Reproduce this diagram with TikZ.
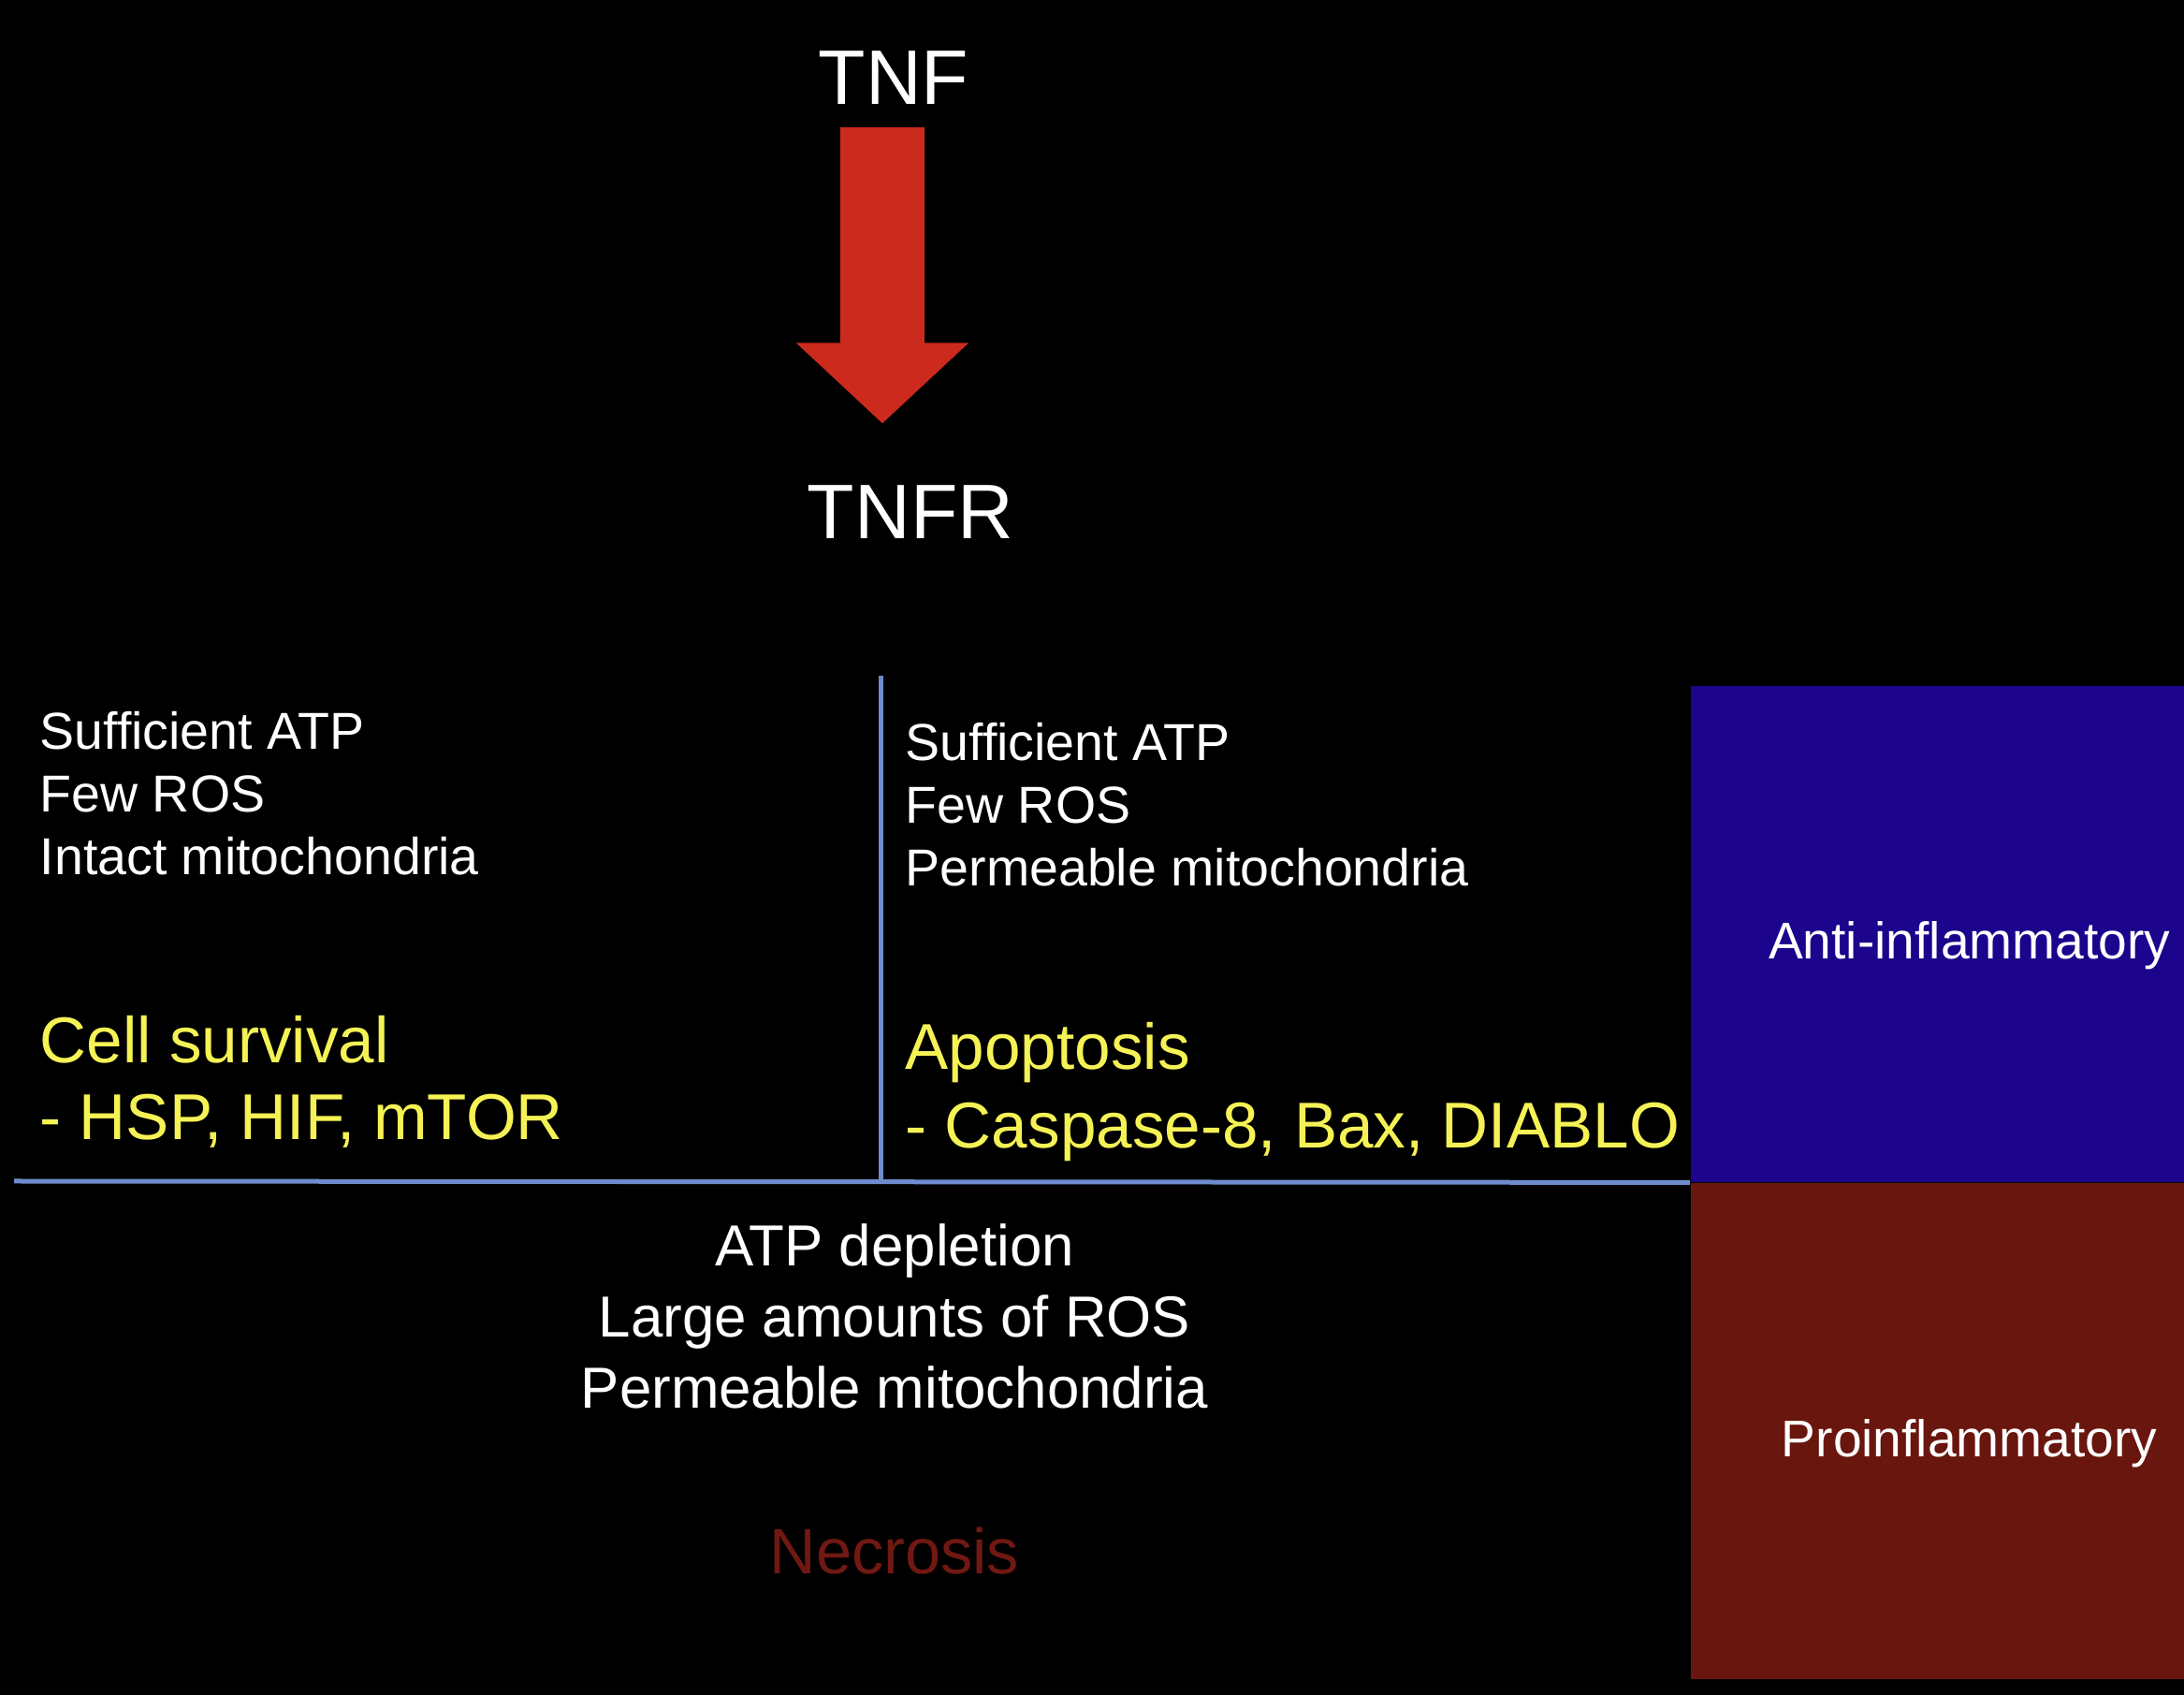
\documentclass[tikz,border=0pt]{standalone}
\usepackage{fontspec}
\setmainfont{Liberation Sans}
\usepackage{tikz}
\usetikzlibrary{positioning, arrows.meta, calc}
\definecolor{arrowred}{RGB}{205,42,30}
\definecolor{lineblue}{RGB}{110,140,205}
\definecolor{boxblue}{RGB}{28,4,140}
\definecolor{boxred}{RGB}{105,22,15}
\definecolor{fateyellow}{RGB}{245,242,85}
\definecolor{necred}{RGB}{112,24,18}

\begin{document}
\begin{tikzpicture}[>=Stealth,
        every node/.style={inner sep=0pt, anchor=base west, text=white},
        title/.style={font=\fontsize{23.5}{28}\selectfont, anchor=base},
        cond/.style={font=\fontsize{15.8}{19}\selectfont},
        fate/.style={font=\fontsize{19.7}{23}\selectfont, text=fateyellow},
        loss/.style={font=\fontsize{17.6}{21}\selectfont, anchor=base},
        region/.style={rectangle, minimum width=5.96cm, minimum height=5.30cm,
            anchor=north west, text height=0.64cm, text depth=0.1cm,
            font=\fontsize{15.7}{19}\selectfont},
        divider/.style={draw=lineblue, line width=0.05cm},
        tnfarrow/.style={draw=arrowred, line width=0.9cm,
            -{Triangle[width=1.79cm, length=0.86cm]},
            shorten <=0.23cm, shorten >=0.66cm}]
      \fill[black] (0,0) rectangle (23.34,-18.11);
      \useasboundingbox (0,0) rectangle (23.34,-18.11);

      % receptor
      \node[title] (tnf) at (9.55,-1.12) {TNF};
      \node[title] (tnfr) at (9.73,-5.76) {TNFR};
      \coordinate (tip) at (9.43,-4.51);
      \draw[tnfarrow] (tnf.south -| tip) -- (tnfr.north -| tip);

      % outcome regions
      \node[region, fill=boxblue] (anti) at (18.06,-7.32) {Anti-inflammatory};
      \node[region, fill=boxred, below=0pt of anti.south west, anchor=north west] (pro) {Proinflammatory};

      \coordinate (vtop) at (9.41,-7.22);
      \coordinate (vbot) at (9.41,-12.62);
      \coordinate (hleft) at (0.15,-12.62);
      \draw[divider] (vtop) -- (vbot);
      \draw[divider] (hleft) -- (anti.south west);

      % survival
      \node[cond] (s1) at (0.42,-8.01) {Sufficient ATP};
      \node[cond, below=0.67cm of s1.base west, anchor=base west] (s2) {Few ROS};
      \node[cond, below=0.67cm of s2.base west, anchor=base west] (s3) {Intact mitochondria};
      \node[fate] (s4) at (0.42,-11.36) {Cell survival};
      \node[fate, below=0.82cm of s4.base west, anchor=base west] (s5) {- HSP, HIF, mTOR};

      % apoptosis
      \node[cond] (a1) at (9.67,-8.13) {Sufficient ATP};
      \node[cond, below=0.67cm of a1.base west, anchor=base west] (a2) {Few ROS};
      \node[cond, below=0.67cm of a2.base west, anchor=base west] (a3) {Permeable mitochondria};
      \node[fate] (a4) at (9.67,-11.43) {Apoptosis};
      \node[fate, below=0.84cm of a4.base west, anchor=base west] (a5) {- Caspase-8, Bax, DIABLO};

      % necrosis
      \node[loss] (n1) at (9.56,-13.53) {ATP depletion};
      \node[loss, below=0.76cm of n1.base, anchor=base] (n2) {Large amounts of ROS};
      \node[loss, below=0.76cm of n2.base, anchor=base] (n3) {Permeable mitochondria};
      \node[loss, font=\fontsize{19.5}{23}\selectfont, text=necred] (n4) at (9.56,-16.82) {Necrosis};
    \end{tikzpicture}
\end{document}
